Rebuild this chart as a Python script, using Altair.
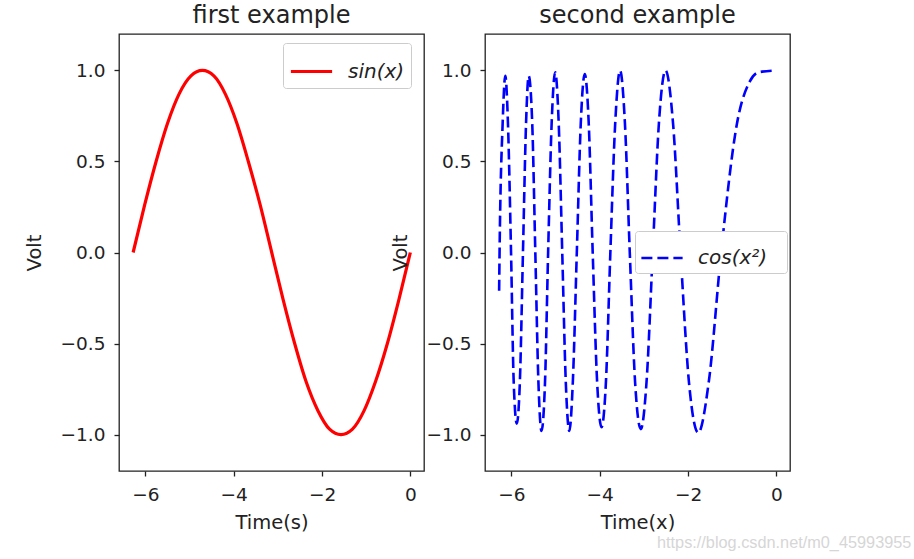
import altair as alt
import pandas as pd

# ---- data ----
sin_x = [-6.28, -6.02, -5.76, -5.50, -5.24, -4.97, -4.71, -4.45, -4.19, -3.93, -3.67, -3.40, -3.14,
         -2.88, -2.62, -2.36, -2.09, -1.83, -1.57, -1.31, -1.05, -0.79, -0.52, -0.26, 0.0]
sin_y = [0.0, 0.26, 0.50, 0.71, 0.87, 0.97, 1.0, 0.97, 0.87, 0.71, 0.50, 0.26, 0.0,
         -0.26, -0.50, -0.71, -0.87, -0.97, -1.0, -0.97, -0.87, -0.71, -0.50, -0.26, 0.0]

cos_x = [-6.28, -6.27, -6.20, -6.14, -6.08, -6.01, -5.95, -5.88, -5.81, -5.74,
         -5.67, -5.61, -5.53, -5.46, -5.39, -5.32, -5.24, -5.17, -5.09, -5.01,
         -4.93, -4.85, -4.77, -4.69, -4.61, -4.52, -4.43, -4.34, -4.25, -4.16,
         -4.06, -3.96, -3.86, -3.76, -3.65, -3.54, -3.43, -3.32, -3.20, -3.07,
         -2.94, -2.80, -2.66, -2.51, -2.34, -2.17, -1.98, -1.77, -1.53, -1.25,
         -0.89, -0.60, -0.40, 0.0]
cos_y = [-0.21, 0.0, 0.71, 0.97, 0.71, 0.0, -0.71, -0.94, -0.71, 0.0,
         0.71, 0.97, 0.71, 0.0, -0.71, -0.98, -0.71, 0.0, 0.71, 0.99,
         0.71, 0.0, -0.71, -0.98, -0.71, 0.0, 0.71, 0.98, 0.71, 0.0,
         -0.71, -0.96, -0.71, 0.0, 0.71, 1.0, 0.71, 0.0, -0.71, -0.97,
         -0.71, 0.0, 0.71, 1.0, 0.71, 0.0, -0.71, -0.99, -0.71, 0.0,
         0.71, 0.94, 0.99, 1.0]

x_ticks = [-6, -4, -2, 0]
y_ticks = [-1.0, -0.5, 0.0, 0.5, 1.0]
x_domain = [-6.6, 0.31]
y_domain = [-1.2, 1.2]

titles = ["first example", "second example"]
x_titles = ["Time(s)", "Time(x)"]
y_title = "Volt"
series = ["sin(x)", "cos(x\u00b2)"]
colors = ["#ff0000", "#0000ff"]
watermark = "https://blog.csdn.net/m0_45993955"

FONT = "DejaVu Sans"
INK = "#222222"
W, H = 305, 437

sin_df = pd.DataFrame({"x": sin_x, "y": sin_y, "i": list(range(len(sin_x))), "s": series[0]})
cos_df = pd.DataFrame({"x": cos_x, "y": cos_y, "i": list(range(len(cos_x))), "s": series[1]})


def x_enc(title):
    return alt.X("x:Q", scale=alt.Scale(domain=x_domain, nice=False, zero=False),
                 axis=alt.Axis(title=title, values=x_ticks,
                               labelExpr="replace(format(datum.value, 'd'), '-', '\u2212')",
                               labelPadding=9, titleY=51, titleBaseline="middle"))


def y_enc():
    return alt.Y("y:Q", scale=alt.Scale(domain=y_domain, nice=False, zero=False),
                 axis=alt.Axis(title=y_title, values=y_ticks,
                               labelExpr="replace(format(datum.value, '.1f'), '-', '\u2212')",
                               labelPadding=9,
                               titleX=-85, titleY=H / 2, titleBaseline="middle", titleAngle=-90))


def legend(x, y, dash=None):
    kw = dict(title=None, orient="none", legendX=x, legendY=y, fillColor="white",
              strokeColor="#cccccc", cornerRadius=3, padding=5, labelFont=FONT,
              labelFontStyle="italic", labelFontSize=20, labelColor=INK, labelOffset=14,
              symbolType="stroke", symbolSize=1700)
    if dash:
        kw["symbolDash"] = dash
        kw["symbolStrokeWidth"] = 2.6
        kw["labelExpr"] = "datum.label + '\u2800'"
    else:
        kw["symbolStrokeWidth"] = 3.2
        kw["padding"] = 6
    return alt.Legend(**kw)


left = alt.Chart(sin_df).mark_line(strokeWidth=3.2, interpolate="monotone").encode(
    x=x_enc(x_titles[0]),
    y=y_enc(),
    color=alt.Color("s:N", scale=alt.Scale(domain=[series[0]], range=[colors[0]]),
                    legend=legend(164, 9)),
    order="i:Q",
).properties(width=W, height=H, title=titles[0])

right_line = alt.Chart(cos_df).mark_line(strokeWidth=2.6, strokeDash=[11, 5], interpolate="monotone").encode(
    x=x_enc(x_titles[1]),
    y=y_enc(),
    color=alt.Color("s:N", scale=alt.Scale(domain=[series[1]], range=[colors[1]]),
                    legend=legend(150, 197, dash=[11, 5])),
    order="i:Q",
)

wm = alt.Chart(pd.DataFrame({"t": [watermark]})).mark_text(
    align="left", baseline="middle", font="Liberation Sans", fontSize=16.3, color="#d6d6d6"
).encode(x=alt.value(172), y=alt.value(509), text="t:N")

right = alt.layer(right_line, wm).properties(width=W, height=H, title=titles[1])

chart = alt.hconcat(left, right, spacing=61, bounds="flush").resolve_scale(
    color="independent"
).properties(
    padding={"left": 23, "top": 3, "right": 0, "bottom": 0}
).configure_view(
    stroke=INK, strokeWidth=1.3
).configure_axis(
    grid=False, domain=False, tickSize=5, tickWidth=1.3, tickColor=INK,
    labelFont=FONT, labelFontSize=18.5, labelColor=INK,
    titleFont=FONT, titleFontSize=19.5, titleFontWeight="normal", titleColor=INK,
).configure_title(
    font=FONT, fontSize=24, fontWeight="normal", color=INK, anchor="middle",
    baseline="alphabetic", offset=6
)

chart.save("out.html", embed_options={"renderer": "svg", "actions": False})
